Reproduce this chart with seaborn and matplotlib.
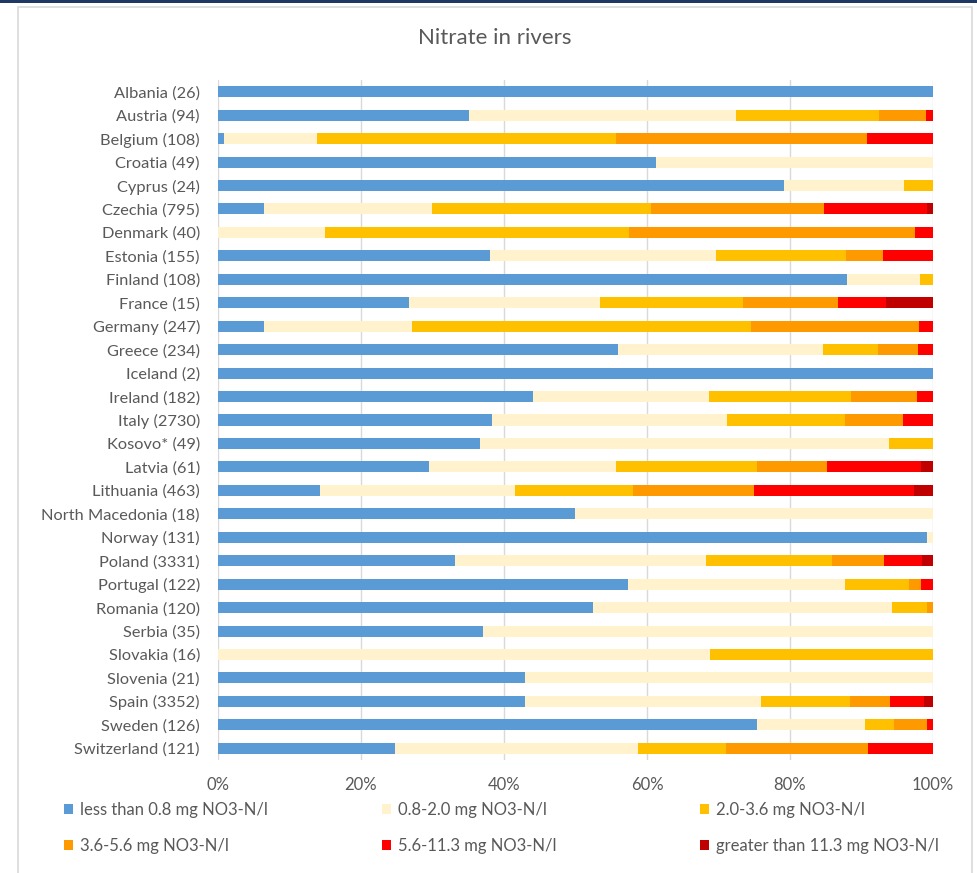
import numpy as np
import pandas as pd
import matplotlib.pyplot as plt
import seaborn as sns
from matplotlib.patches import Patch, Rectangle

# data (share of stations, %)
countries = ["Albania (26)", "Austria (94)", "Belgium (108)", "Croatia (49)", "Cyprus (24)",
             "Czechia (795)", "Denmark (40)", "Estonia (155)", "Finland (108)", "France (15)",
             "Germany (247)", "Greece (234)", "Iceland (2)", "Ireland (182)", "Italy (2730)",
             "Kosovo* (49)", "Latvia (61)", "Lithuania (463)", "North Macedonia (18)",
             "Norway (131)", "Poland (3331)", "Portugal (122)", "Romania (120)", "Serbia (35)",
             "Slovakia (16)", "Slovenia (21)", "Spain (3352)", "Sweden (126)", "Switzerland (121)"]

lt_08 = [100, 35.1, 0.9, 61.2, 79.2, 6.4, 0, 38.1, 88.0, 26.7, 6.5, 56.0, 100, 44.0, 38.3,
         36.7, 29.5, 14.3, 50, 99.2, 33.2, 57.4, 52.5, 37.1, 0, 42.9, 43.0, 75.4, 24.8]
r08_20 = [0, 37.3, 13.0, 38.8, 16.7, 23.5, 15.0, 31.6, 10.2, 26.7, 20.6, 28.6, 0, 24.7, 32.9,
          57.2, 26.2, 27.2, 50, 0.8, 35.0, 30.3, 41.7, 62.9, 68.75, 57.1, 32.9, 15.1, 33.9]
r20_36 = [0, 20.1, 41.7, 0, 4.1, 30.6, 42.5, 18.1, 1.8, 20.0, 47.4, 7.7, 0, 19.8, 16.5,
          6.1, 19.7, 16.6, 0, 0, 17.7, 9.0, 5.0, 0, 31.25, 0, 12.5, 4.0, 12.4]
r36_56 = [0, 6.5, 35.2, 0, 0, 24.2, 40.0, 5.2, 0, 13.3, 23.5, 5.6, 0, 9.3, 8.1,
          0, 9.8, 16.9, 0, 0, 7.2, 1.6, 0.8, 0, 0, 0, 5.6, 4.7, 19.8]
r56_113 = [0, 1.0, 9.2, 0, 0, 14.5, 2.5, 7.0, 0, 6.7, 2.0, 2.1, 0, 2.2, 4.2,
           0, 13.1, 22.4, 0, 0, 5.4, 1.7, 0, 0, 0, 0, 4.8, 0.8, 9.1]
gt_113 = [0, 0, 0, 0, 0, 0.8, 0, 0, 0, 6.6, 0, 0, 0, 0, 0,
          0, 1.7, 2.6, 0, 0, 1.5, 0, 0, 0, 0, 0, 1.2, 0, 0]

series_labels = ["less than 0.8 mg NO3-N/l", "0.8-2.0 mg NO3-N/l", "2.0-3.6 mg NO3-N/l",
                 "3.6-5.6 mg NO3-N/l", "5.6-11.3 mg NO3-N/l", "greater than 11.3 mg NO3-N/l"]
colors = ["#5B9BD5", "#FFF2CC", "#FFC000", "#FF9900", "#FF0000", "#C00000"]

sns.set_style("white")
plt.rcParams['font.family'] = ['Lato', 'DejaVu Sans']
grey = "#595959"

values = np.array([lt_08, r08_20, r20_36, r36_56, r56_113, gt_113])
cum = np.cumsum(values, axis=0)

fig = plt.figure(figsize=(9.78, 8.73), dpi=100)
ax = fig.add_axes([218 / 978, 1 - 760 / 873, 715 / 978, 680 / 873])

# stacked bars: draw the cumulative totals from the last series back to the first
for i in range(len(series_labels) - 1, -1, -1):
    df = pd.DataFrame({"country": countries, "cum": cum[i]})
    sns.barplot(data=df, x="cum", y="country", order=countries, color=colors[i],
                saturation=1, width=0.47, linewidth=0, ax=ax)
for p in ax.patches:
    p.set_antialiased(False)

ax.set_xlim(0, 100)
ax.set_ylim(len(countries) - 0.5, -0.5)
ax.set_xticks(range(0, 101, 20))
ax.set_xticklabels([f"{t}%" for t in range(0, 101, 20)])
ax.xaxis.grid(True, color="#D9D9D9", linewidth=1)
ax.set_axisbelow(True)
for s in ax.spines.values():
    s.set_visible(False)
ax.set_xlabel("")
ax.set_ylabel("")
ax.tick_params(axis="x", length=0, pad=12, labelsize=12, labelcolor=grey)
ax.tick_params(axis="y", length=0, pad=13, labelsize=11.8, labelcolor=grey)

fig.text(495 / 978, 1 - 38 / 873, "Nitrate in rivers", ha="center", va="center",
         fontsize=16, color=grey)

# legend: three columns, two rows
handles = [Patch(facecolor=c, edgecolor="none") for c in colors]
col_x = [64, 382, 700]
for j in range(3):
    leg = fig.legend(handles=[handles[j], handles[j + 3]],
                     labels=[series_labels[j], series_labels[j + 3]],
                     loc="upper left", bbox_to_anchor=(col_x[j] / 978, 1 - 802 / 873),
                     frameon=False, fontsize=12, handlelength=0.55, handleheight=0.55,
                     handletextpad=0.4, labelspacing=1.22, borderpad=0, borderaxespad=0)
    for t in leg.get_texts():
        t.set_color(grey)

# chart frame and top band
fig.patches.append(Rectangle((18 / 978, -0.01), 954 / 978, 1 - 7 / 873 + 0.01,
                             transform=fig.transFigure, fill=False, edgecolor="#D9D9D9",
                             linewidth=1.2))
fig.patches.append(Rectangle((0, 1 - 3 / 873), 1, 3 / 873, transform=fig.transFigure,
                             facecolor="#1F3864", edgecolor="none"))

fig.savefig("out.png", dpi=100)
